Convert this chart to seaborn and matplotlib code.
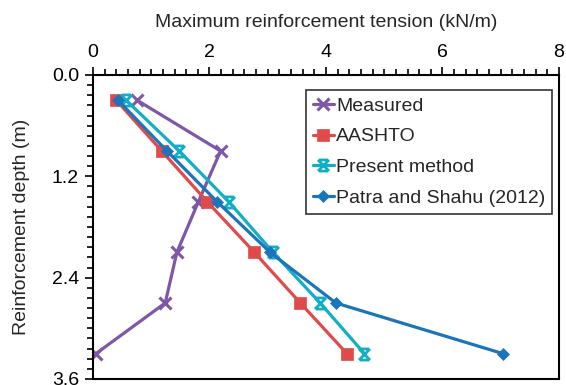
import matplotlib
matplotlib.use("Agg")
import matplotlib.pyplot as plt
import seaborn as sns
import numpy as np
import pandas as pd
from matplotlib.path import Path
from matplotlib.ticker import MultipleLocator, FormatStrFormatter

depth = [0.3, 0.9, 1.5, 2.1, 2.7, 3.3]
measured = [0.76, 2.19, 1.81, 1.44, 1.24, 0.05]
aashto = [0.40, 1.18, 1.96, 2.77, 3.56, 4.36]
present = [0.57, 1.48, 2.33, 3.09, 3.90, 4.66]
patra = [0.43, 1.27, 2.13, 3.04, 4.17, 7.04]

series_names = ["Measured", "AASHTO", "Present method", "Patra and Shahu (2012)"]
series_vals = [measured, aashto, present, patra]
colors = ["#7E57A8", "#E04A4A", "#12AEC6", "#1B75BB"]

# custom "star" marker: X with horizontal caps
star = Path(
    [(-1, -1), (1, 1), (-1, 1), (1, -1), (-0.8, 1), (0.8, 1), (-0.8, -1), (0.8, -1)],
    [Path.MOVETO, Path.LINETO, Path.MOVETO, Path.LINETO,
     Path.MOVETO, Path.LINETO, Path.MOVETO, Path.LINETO],
)
markers = ["x", "s", star, "D"]
msizes = [8, 8, 8, 6.5]
mews = [2.2, 0.5, 2, 0.5]

sns.set_style("white")
plt.rcParams["font.family"] = ["Liberation Sans", "DejaVu Sans"]

fig = plt.figure(figsize=(5.66, 3.85), dpi=100)
ax = fig.add_axes([0.1643, 0.0156, 0.8233, 0.7896])

for name, vals, c, m, ms, mew in zip(series_names, series_vals, colors, markers, msizes, mews):
    df = pd.DataFrame({"x": vals, "y": depth})
    sns.lineplot(data=df, x="x", y="y", sort=False, ax=ax, color=c, lw=2.3,
                 marker=m, markersize=ms, markeredgewidth=mew,
                 markeredgecolor=c, label=name)

ax.set_xlim(0, 8)
ax.set_ylim(3.6, 0)
ax.xaxis.set_ticks_position("top")
ax.xaxis.set_label_position("top")
ax.xaxis.set_major_locator(MultipleLocator(2))
ax.xaxis.set_minor_locator(MultipleLocator(0.2))
ax.yaxis.set_major_locator(MultipleLocator(1.2))
ax.yaxis.set_minor_locator(MultipleLocator(0.12))
ax.yaxis.set_major_formatter(FormatStrFormatter("%.1f"))
ax.tick_params(which="both", direction="out", colors="black", labelsize=14,
               top=True, bottom=False, left=True, right=False)
ax.tick_params(which="major", length=6, width=1.2, pad=4)
ax.tick_params(which="minor", length=4, width=1.2)
for s in ax.spines.values():
    s.set_color("black")
    s.set_linewidth(1.5)
ax.set_xlabel("Maximum reinforcement tension (kN/m)", fontsize=14, labelpad=12)
ax.set_ylabel("Reinforcement depth (m)", fontsize=14, labelpad=16)

leg = ax.legend(loc="upper right", bbox_to_anchor=(0.985, 0.95), fontsize=14,
                frameon=True, fancybox=False, edgecolor="black", handlelength=1.1,
                handletextpad=0.1, borderpad=0.35, labelspacing=0.68, borderaxespad=0)
leg.get_frame().set_linewidth(1.2)

fig.savefig("out.png", dpi=100)
